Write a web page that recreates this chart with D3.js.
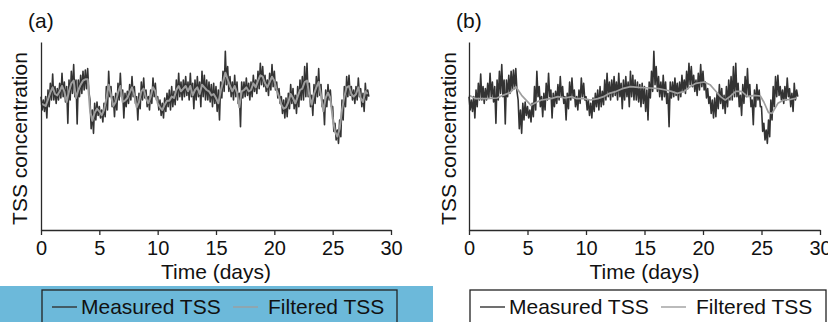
<!DOCTYPE html>
<html>
<head>
<meta charset="utf-8">
<script src="https://cdn.jsdelivr.net/npm/d3@7"></script>
<style>
  body { margin: 0; background: #fff; }
  svg { display: block; font-family: "Liberation Sans", Arial, sans-serif; }
</style>
</head>
<body>
<svg id="chart" width="828" height="322"></svg>
<script>
// tick labels of the time axis (days)
const xTicks = [0, 5, 10, 15, 20, 25, 30];

// measured TSS, read every 0.2 day: upper and lower edge of the noisy band
const measuredHigh = [
  100, 97.5, 100, 105, 110, 117, 107.5, 106, 110, 117.5,
  111, 107.5, 112.5, 119, 124, 112.5, 112.5, 116, 119, 120,
  121, 97.5, 90, 95, 96, 92.5, 90, 95, 107.5, 119,
  107.5, 100, 102.5, 110, 117.5, 105, 102.5, 104, 109, 115,
  107.5, 100, 102.5, 111, 114, 105, 100, 105, 114, 110,
  100, 97.5, 95, 99, 102.5, 105, 107.5, 104, 112.5, 117.5,
  111, 112.5, 115, 111, 117.5, 110, 112.5, 115, 111, 119,
  116, 112.5, 111, 109, 110, 107.5, 105, 111, 119, 134,
  122.5, 115, 111, 116, 111, 102.5, 111, 111, 114, 110,
  111, 116, 112.5, 119, 125, 122.5, 116, 112.5, 117.5, 124,
  119, 111, 106, 100, 97.5, 99, 102.5, 109, 106, 101,
  107.5, 112.5, 115, 122.5, 125, 110, 101, 109, 115, 121,
  109, 97.5, 105, 109, 105, 92.5, 80, 75, 82.5, 97.5,
  107.5, 115, 116, 107.5, 105, 107.5, 114, 106, 102.5, 110,
  105
];
const measuredLow = [
  90, 89, 84, 92.5, 97.5, 97.5, 95, 97.5, 99, 100,
  96, 80, 97.5, 102.5, 100, 79.5, 100, 102.5, 105, 106,
  104, 76, 72.5, 82.5, 86, 84, 81, 85, 90, 100,
  92.5, 85, 90, 97.5, 100, 84, 92.5, 95, 97.5, 100,
  95, 82.5, 91, 97.5, 99, 92.5, 90, 95, 100, 97.5,
  90, 86, 84, 89, 92.5, 90, 92.5, 94, 97.5, 100,
  97.5, 100, 101, 97.5, 100, 91, 97.5, 100, 92.5, 100,
  97.5, 97.5, 96, 92.5, 95, 89, 82.5, 99, 104, 109,
  104, 100, 97.5, 100, 95, 77.5, 99, 100, 101, 97.5,
  100, 104, 102.5, 106, 109, 107.5, 104, 101, 105, 107.5,
  105, 99, 95, 87.5, 84, 85, 91, 95, 91, 87.5,
  92.5, 97.5, 97.5, 100, 100, 92.5, 86, 95, 100, 101,
  92.5, 79, 92.5, 97.5, 92.5, 74, 67.5, 65, 70, 82.5,
  92.5, 100, 101, 97.5, 95, 97.5, 100, 92.5, 89, 97.5,
  100
];

// filtered TSS of panel (a), every 0.2 day
const filteredA = [
  95, 94, 93, 98, 103, 107, 102, 101, 104, 108,
  104, 96, 104, 110, 112, 99, 105, 109, 112, 113,
  113, 90, 82, 88, 91, 89, 86, 90, 98, 109,
  101, 93, 96, 103, 108, 96, 97, 99, 103, 107,
  101, 92, 96, 104, 106, 99, 95, 100, 107, 104,
  95, 92, 90, 94, 97, 97, 100, 99, 105, 108,
  104, 106, 108, 104, 108, 101, 105, 107, 102, 109,
  107, 105, 104, 101, 102, 99, 95, 104, 111, 118,
  113, 108, 104, 108, 103, 92, 104, 105, 107, 104,
  105, 110, 107, 112, 116, 115, 110, 107, 111, 115,
  112, 105, 100, 94, 91, 92, 96, 102, 99, 95,
  100, 105, 106, 111, 112, 101, 94, 102, 107, 111,
  101, 89, 99, 103, 99, 84, 74, 70, 76, 90,
  100, 107, 108, 102, 100, 102, 107, 99, 96, 104,
  102
];

// filtered TSS of panel (b)
const filteredBDays = [0, 0.6, 1.5, 2.4, 2.9, 3.5, 4.0, 4.5, 5.3, 5.8, 6.2, 7.0, 7.6, 8.2, 8.8,
  9.2, 9.8, 10.4, 11.0, 11.5, 12.0, 12.6, 13.1, 13.8, 14.5, 15.5, 16.2, 16.8, 17.3, 17.8,
  18.4, 18.9, 19.4, 20.1, 20.6, 21.0, 21.5, 21.9, 22.3, 22.8, 23.3, 23.8, 24.4, 24.9, 25.2,
  25.6, 25.9, 26.4, 26.9, 27.5, 28.0];
const filteredB = [101, 98.5, 98.5, 99, 101, 103, 107.5, 101, 93.5, 96, 97.5, 98.5, 100, 99, 100,
  98.5, 98.5, 97.5, 98.5, 100, 102.5, 104, 106, 107.5, 107, 106.5, 106, 105, 104, 102.5,
  104, 107.5, 110, 111, 109, 105, 100, 97.5, 100, 104, 104, 100, 101, 100.5, 96,
  88, 87.5, 95, 97.5, 98, 99];

const panelLabels = ["(a)", "(b)"];
const legendLabels = ["Measured TSS", "Filtered TSS"];

const sampleStep = 0.2;
const sampleDays = d3.range(measuredHigh.length).map(i => i * sampleStep);

// measured line goes peak -> trough inside each sampling block
const measured = [];
sampleDays.forEach((d, i) => {
  measured.push([d, measuredHigh[i]]);
  measured.push([d + sampleStep / 2, measuredLow[i]]);
});
const filteredAPoints = sampleDays.map((d, i) => [d, filteredA[i]]);
const filteredBPoints = filteredBDays.map((d, i) => [d, filteredB[i]]);

const darkColor = "#333333";
const lightColor = "#9e9e9e";
const axisColor = "#2a2a2a";

const svg = d3.select("#chart");

// blue strip behind the left legend
svg.append("rect")
  .attr("x", 0).attr("y", 286)
  .attr("width", 433).attr("height", 36)
  .attr("fill", "#6cb9da");

const plotTop = 42, plotBottom = 230;

function drawPanel(cfg) {
  var x = d3.scaleLinear().domain([0, 30]).range([cfg.left, cfg.right]);
  var y = d3.scaleLinear().domain([0, 141]).range([plotBottom, plotTop]);

  var line = d3.line().x(d => x(d[0])).y(d => y(d[1]));

  svg.append("path")
    .datum(measured)
    .attr("d", line)
    .attr("fill", "none")
    .attr("stroke", darkColor)
    .attr("stroke-width", 1.6)
    .attr("stroke-linejoin", "round");

  svg.append("path")
    .datum(cfg.filtered)
    .attr("d", line)
    .attr("fill", "none")
    .attr("stroke", lightColor)
    .attr("stroke-width", cfg.filteredWidth)
    .attr("stroke-linejoin", "round");

  // x axis
  var gx = svg.append("g")
    .attr("transform", "translate(0," + plotBottom + ")")
    .call(d3.axisBottom(x).tickValues(xTicks).tickSize(5).tickSizeOuter(0).tickPadding(6));
  gx.select(".domain").attr("stroke", axisColor).attr("stroke-width", 1.3);
  gx.selectAll(".tick line").attr("stroke", axisColor).attr("stroke-width", 1.3);
  gx.selectAll(".tick text")
    .attr("fill", "#111")
    .style("font-size", "20px")
    .style("font-family", "'Liberation Sans', Arial, sans-serif");

  // y axis: just the line
  var gy = svg.append("g")
    .attr("transform", "translate(" + cfg.left + ",0)")
    .call(d3.axisLeft(y).tickValues([]).tickSizeOuter(0));
  gy.select(".domain").attr("stroke", axisColor).attr("stroke-width", 1.3);

  svg.append("text")
    .attr("x", (cfg.left + cfg.right) / 2)
    .attr("y", 279)
    .attr("text-anchor", "middle")
    .style("font-size", "21px")
    .attr("fill", "#111")
    .text("Time (days)");

  svg.append("text")
    .attr("transform", "translate(" + cfg.titleX + ",138.5) rotate(-90)")
    .attr("text-anchor", "middle")
    .style("font-size", "21px")
    .attr("fill", "#111")
    .text("TSS concentration");

  svg.append("text")
    .attr("x", cfg.labelX)
    .attr("y", 27.5)
    .style("font-size", "21px")
    .attr("fill", "#111")
    .text(cfg.label);

  // legend
  var lg = svg.append("g").attr("transform", "translate(" + cfg.legendX + ",290)");
  lg.append("rect")
    .attr("width", cfg.legendW).attr("height", 40)
    .attr("fill", cfg.legendFill)
    .attr("stroke", "#222").attr("stroke-width", 1.3);

  var items = [
    { label: legendLabels[0], color: darkColor, x0: 10, tx: 39 },
    { label: legendLabels[1], color: lightColor, x0: 191, tx: 226 }
  ];
  items.forEach(function (it) {
    lg.append("line")
      .attr("x1", it.x0).attr("x2", it.x0 + 25)
      .attr("y1", 17).attr("y2", 17)
      .attr("stroke", it.color).attr("stroke-width", 1.4);
    lg.append("text")
      .attr("x", it.tx).attr("y", 24)
      .style("font-size", "21px")
      .attr("fill", "#111")
      .text(it.label);
  });
}

drawPanel({ left: 41, right: 391, filtered: filteredAPoints, filteredWidth: 2, label: panelLabels[0], labelX: 28,
  titleX: 27, legendX: 42, legendW: 355, legendFill: "none" });
drawPanel({ left: 469, right: 820, filtered: filteredBPoints, filteredWidth: 1.7, label: panelLabels[1], labelX: 456,
  titleX: 455.5, legendX: 470, legendW: 356, legendFill: "#fff" });
</script>
</body>
</html>
